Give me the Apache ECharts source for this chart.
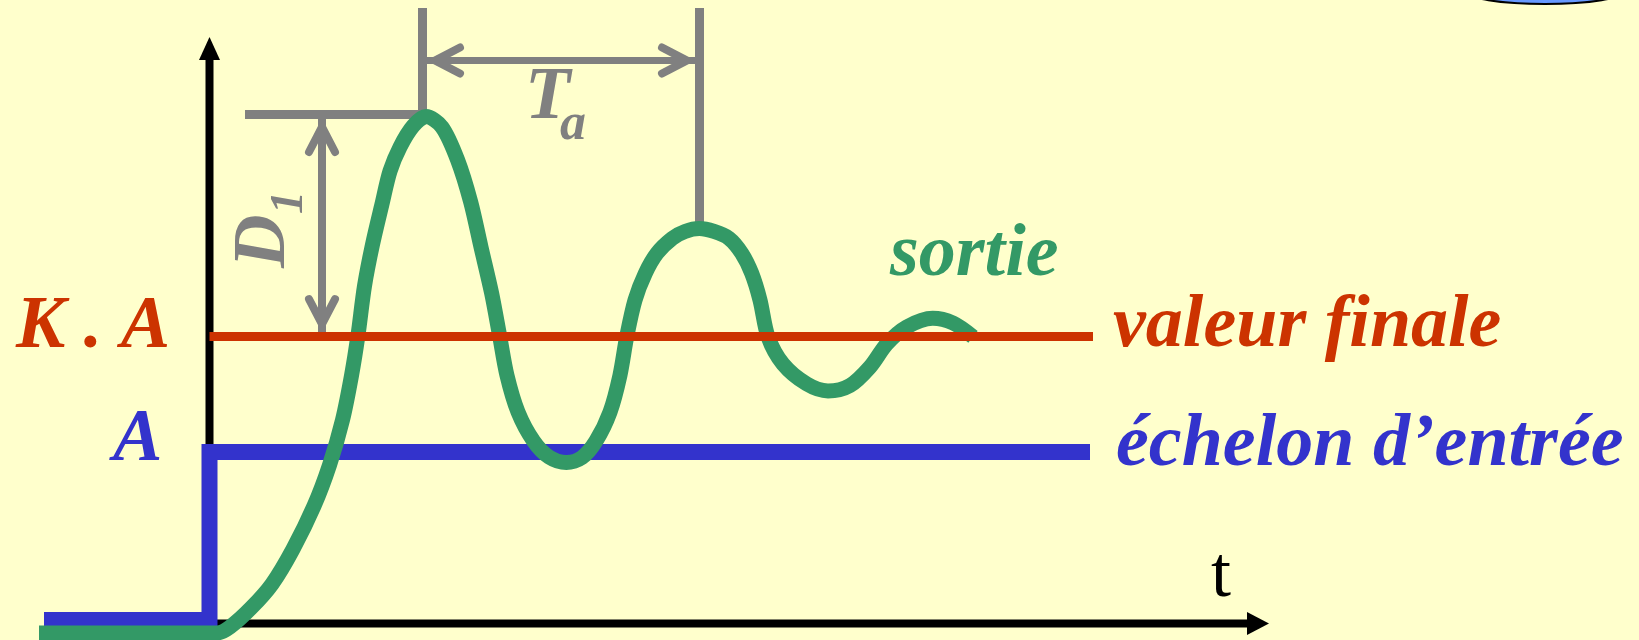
<!DOCTYPE html>
<html>
<head>
<meta charset="utf-8">
<script src="https://cdn.jsdelivr.net/npm/echarts@6/dist/echarts.min.js"></script>
<style>
  html, body { margin: 0; padding: 0; background: #ffffcc; }
  #chart { width: 1639px; height: 640px; }
</style>
</head>
<body>
<div id="chart"></div>
<script>
// time axis: t = 0 at the input step; values: A = 1
const sortieT = [-1.705, 0.075, 0.205, 0.415, 0.625, 0.835, 1.045, 1.2, 1.33, 1.42, 1.485, 1.55, 1.629, 1.725, 1.805,
  1.905, 2.035, 2.165, 2.325, 2.481, 2.612, 2.715, 2.821, 2.9, 2.975, 3.085, 3.24, 3.395, 3.569, 3.725, 3.865, 4.005,
  4.104, 4.172, 4.255, 4.358, 4.475, 4.628, 4.755, 4.898, 5.045, 5.195, 5.322, 5.422, 5.505, 5.585, 5.735,
  5.972, 6.185, 6.405, 6.605, 6.772, 6.972, 7.232, 7.435, 7.635]
const sortieV = [-0.055, -0.055, -0.02, 0.09, 0.23, 0.434, 0.685, 0.924, 1.187, 1.446, 1.682, 1.968, 2.207, 2.446, 2.638,
  2.778, 2.9, 2.956, 2.895, 2.703, 2.458, 2.195, 1.927, 1.682, 1.446, 1.233, 1.064, 0.971, 0.939, 0.968, 1.064, 1.233,
  1.446, 1.672, 1.886, 2.042, 2.159, 2.246, 2.286, 2.303, 2.286, 2.246, 2.159, 2.042, 1.886, 1.672, 1.513,
  1.397, 1.356, 1.388, 1.496, 1.63, 1.729, 1.78, 1.752, 1.672]
const echelonT = [-1.655, 0, 0, 8.805]
const echelonV = [0.02, 0.02, 1, 1]
const finaleT = [0, 8.835]
const finaleV = [1.673, 1.673]
const peakT = [2.13, 4.9]
const peakV = [2.968, 2.3]
const guideTopV = 3.589
const guideLeftT = 0.355
const taV = 3.283
const d1T = 1.125
const axisEndT = 10.485
const axisEndV = 3.353

const GREEN = '#339966'
const RED = '#cc3300'
const BLUE = '#3333cc'
const GREY = '#808080'
const FONT = '"Liberation Serif", "Times New Roman", serif'

const zip = (xs, ys) => xs.map((x, i) => [x, ys[i]])

function label(text, x, y, size, color, extra = {}) {
  return {
    type: 'text',
    x,
    y,
    z: 20,
    style: {
      text,
      font: `${extra.italic === false ? 'normal' : 'italic'} ${extra.bold === false ? 'normal' : 'bold'} ${size}px ${FONT}`,
      fill: color,
      align: extra.align || 'left',
      verticalAlign: 'middle',
    },
  }
}

// axes with filled arrows, and the grey D1 / Ta dimension marks
function renderFrame(params, api) {
  const seg = (a, b, w, color = GREY) => ({
    type: 'line',
    shape: { x1: a[0], y1: a[1], x2: b[0], y2: b[1] },
    style: { stroke: color, lineWidth: w, lineCap: 'butt' },
  })
  // open arrow head, (dx, dy) points toward the tip
  const chevron = (tip, dx, dy) => {
    const L = 25, W = 13
    const bx = tip[0] - dx * L
    const by = tip[1] - dy * L
    return {
      type: 'polyline',
      shape: { points: [[bx - dy * W, by + dx * W], tip, [bx + dy * W, by - dx * W]] },
      style: { stroke: GREY, fill: null, lineWidth: 8, lineCap: 'round', lineJoin: 'miter' },
    }
  }
  const triangle = (c, dx, dy, len, half) => ({
    type: 'polygon',
    shape: {
      points: [
        [c[0] + dx * len / 2, c[1] + dy * len / 2],
        [c[0] - dx * len / 2 - dy * half, c[1] - dy * len / 2 + dx * half],
        [c[0] - dx * len / 2 + dy * half, c[1] - dy * len / 2 - dx * half],
      ],
    },
    style: { fill: '#000' },
  })
  const origin = api.coord([0, 0])
  const xEnd = api.coord([axisEndT, 0])
  const yEnd = api.coord([0, axisEndV])

  const p1 = api.coord([peakT[0], peakV[0]])
  const p2 = api.coord([peakT[1], peakV[1]])
  const top1 = api.coord([peakT[0], guideTopV])
  const top2 = api.coord([peakT[1], guideTopV])
  const left = api.coord([guideLeftT, peakV[0]])
  const taL = api.coord([peakT[0], taV])
  const taR = api.coord([peakT[1], taV])
  const dTop = api.coord([d1T, peakV[0]])
  const dBot = api.coord([d1T, finaleV[0]])
  const aL = [taL[0] + 4.5, taL[1]]
  const aR = [taR[0] - 4.5, taR[1]]
  const dT = [dTop[0], dTop[1] + 4.5]
  const dB = [dBot[0], dBot[1] - 4.5]
  return {
    type: 'group',
    children: [
      seg([origin[0] - 4, origin[1]], [xEnd[0] - 5, xEnd[1]], 8, '#000'),
      triangle(xEnd, 1, 0, 22, 11.5),
      seg([origin[0], origin[1] + 4], [yEnd[0], yEnd[1] + 5], 8, '#000'),
      triangle(yEnd, 0, -1, 23, 10.5),
      seg(left, [p1[0] + 4.5, p1[1]], 9),
      seg([p1[0], p1[1] + 4], top1, 9),
      seg([p2[0], p2[1] + 6], top2, 9),
      seg(aL, aR, 7),
      chevron([aL[0] + 8, aL[1]], -1, 0),
      chevron([aR[0] - 8, aR[1]], 1, 0),
      seg(dT, dB, 8),
      chevron([dT[0], dT[1] + 8], 0, -1),
      chevron([dB[0], dB[1] - 8], 0, 1),
    ],
  }
}

const chart = echarts.init(document.getElementById('chart'))
chart.setOption({
  backgroundColor: '#ffffcc',
  animation: false,
  grid: { left: 29.5, right: 381, top: 48.5, bottom: 1.065, containLabel: false },
  xAxis: {
    type: 'value',
    min: -1.8,
    max: axisEndT,
    axisLine: { show: false },
    axisTick: { show: false },
    axisLabel: { show: false },
    splitLine: { show: false },
  },
  yAxis: {
    type: 'value',
    min: -0.09,
    max: axisEndV,
    axisLine: { show: false },
    axisTick: { show: false },
    axisLabel: { show: false },
    splitLine: { show: false },
  },
  series: [
    {
      name: 'repères',
      type: 'custom',
      data: [[0, 0]],
      renderItem: renderFrame,
      clip: false,
      silent: true,
      z: 1,
    },
    {
      name: 'échelon',
      type: 'line',
      data: zip(echelonT, echelonV),
      symbol: 'none',
      clip: false,
      z: 2,
      lineStyle: { color: BLUE, width: 16, cap: 'butt', join: 'miter' },
    },
    {
      name: 'sortie',
      type: 'line',
      data: zip(sortieT, sortieV),
      symbol: 'none',
      smooth: 0.3,
      clip: false,
      z: 3,
      lineStyle: { color: GREEN, width: 15, cap: 'butt', join: 'round' },
    },
    {
      name: 'valeur finale',
      type: 'line',
      data: zip(finaleT, finaleV),
      symbol: 'none',
      clip: false,
      z: 4,
      lineStyle: { color: RED, width: 9, cap: 'butt' },
    },
  ],
  graphic: [
    {
      type: 'ellipse',
      shape: { cx: 1545, cy: -9, rx: 80, ry: 13 },
      style: { fill: '#6699ff', stroke: '#000', lineWidth: 2 },
    },
    label('K . A', 16, 328, 74, RED),
    label('A', 113, 441, 74, BLUE),
    label('valeur finale', 1113, 327, 74, RED),
    label('échelon d’entrée', 1116, 446, 74, BLUE),
    label('sortie', 890, 256, 74, GREEN),
    label('t', 1221, 577, 72, '#000', { italic: false, bold: false, align: 'center' }),
    label('T', 525, 99, 74, GREY),
    label('a', 560, 125.5, 52, GREY),
    {
      type: 'group',
      x: 265,
      y: 268,
      rotation: Math.PI / 2,
      children: [
        label('D', 0, 0, 74, GREY),
        label('1', 54, 25.5, 46, GREY),
      ],
    },
  ],
})
</script>
</body>
</html>
